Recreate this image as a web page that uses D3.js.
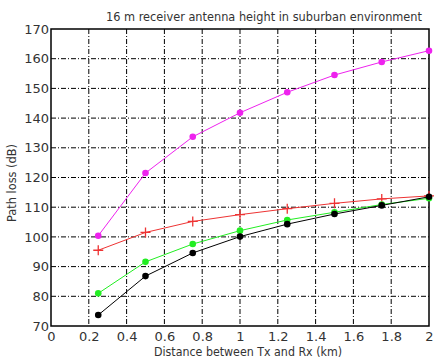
<!DOCTYPE html>
<html>
<head>
<meta charset="utf-8">
<script src="https://cdn.jsdelivr.net/npm/d3@7"></script>
<style>
body { margin:0; background:#fff; }
text { font-family: "DejaVu Sans", sans-serif; fill:#333; }
</style>
</head>
<body>
<div id="chart-area"></div>
<script>
var distances = [0.25, 0.5, 0.75, 1.0, 1.25, 1.5, 1.75, 2.0];
var magentaLoss = [100.4, 121.5, 133.7, 141.8, 148.7, 154.5, 158.9, 162.7];
var redLoss = [95.5, 101.5, 105.2, 107.5, 109.5, 111.3, 112.8, 113.8];
var greenLoss = [81.0, 91.6, 97.6, 102.1, 105.7, 108.3, 110.9, 113.0];
var blackLoss = [73.7, 86.8, 94.6, 100.1, 104.3, 107.7, 110.6, 113.5];
var xTicks = [0, 0.2, 0.4, 0.6, 0.8, 1, 1.2, 1.4, 1.6, 1.8, 2];
var yTicks = [70, 80, 90, 100, 110, 120, 130, 140, 150, 160, 170];

var margins = { left:51, right:18, top:29, bottom:36 };
var W = 447, H = 362;
var width = W - margins.left - margins.right;
var height = H - margins.top - margins.bottom;

var svg = d3.select("#chart-area").append("svg")
    .attr("width", W).attr("height", H);
var g = svg.append("g")
    .attr("transform", "translate(" + margins.left + "," + margins.top + ")");

var x = d3.scaleLinear().domain([0, 2]).range([0, width]);
var y = d3.scaleLinear().domain([70, 170]).range([height, 0]);

// grid
g.selectAll(".vgrid").data(xTicks.slice(1, -1)).enter().append("line")
    .attr("x1", d => x(d)).attr("x2", d => x(d))
    .attr("y1", 0).attr("y2", height)
    .attr("stroke", "#000").attr("stroke-width", 1)
    .attr("stroke-dasharray", "5,2,1,2");
g.selectAll(".hgrid").data(yTicks.slice(1, -1)).enter().append("line")
    .attr("x1", 0).attr("x2", width)
    .attr("y1", d => y(d)).attr("y2", d => y(d))
    .attr("stroke", "#000").attr("stroke-width", 1)
    .attr("stroke-dasharray", "5,2,1,2");

// axes
var xAxis = g.append("g").attr("transform", "translate(0," + height + ")")
    .call(d3.axisBottom(x).tickValues(xTicks).tickSize(0).tickPadding(6).tickFormat(d3.format("")));
var yAxis = g.append("g")
    .call(d3.axisLeft(y).tickValues(yTicks).tickSize(0).tickPadding(2));
[xAxis, yAxis].forEach(function(a){
    a.select(".domain").remove();
    a.selectAll("text").style("font-size", "13px").style("fill", "#333");
});
g.append("rect").attr("width", width).attr("height", height)
    .attr("fill", "none").attr("stroke", "#000").attr("stroke-width", 1.5);

// series
var series = [
    { values: magentaLoss, color: "#ee22ee", marker: "dot" },
    { values: redLoss, color: "#ee3333", marker: "plus" },
    { values: greenLoss, color: "#22ee22", marker: "dot" },
    { values: blackLoss, color: "#000000", marker: "dot" }
];
var line = d3.line().x(d => x(d[0])).y(d => y(d[1]));

series.forEach(function(s) {
    var pts = distances.map((d, i) => [d, s.values[i]]);
    g.append("path").datum(pts)
        .attr("d", line).attr("fill", "none")
        .attr("stroke", s.color).attr("stroke-width", 1);
    if (s.marker == "dot") {
        g.selectAll(null).data(pts).enter().append("circle")
            .attr("cx", d => x(d[0])).attr("cy", d => y(d[1]))
            .attr("r", 3.3).attr("fill", s.color);
    } else {
        g.selectAll(null).data(pts).enter().append("path")
            .attr("d", d => "M" + (x(d[0]) - 5) + "," + y(d[1]) + "h10M" + x(d[0]) + "," + (y(d[1]) - 5) + "v10")
            .attr("stroke", s.color).attr("stroke-width", 1.3);
    }
});

// labels
svg.append("text").attr("x", 264).attr("y", 21).attr("text-anchor", "middle")
    .style("font-size", "11.5px").attr("textLength", 316).attr("lengthAdjust", "spacingAndGlyphs")
    .text("16 m receiver antenna height in suburban environment");
svg.append("text").attr("x", 248).attr("y", 356).attr("text-anchor", "middle")
    .style("font-size", "12px").attr("textLength", 188).attr("lengthAdjust", "spacingAndGlyphs")
    .text("Distance between Tx and Rx (km)");
svg.append("text").attr("transform", "translate(16,183) rotate(-90)").attr("text-anchor", "middle")
    .style("font-size", "12px").attr("textLength", 78).attr("lengthAdjust", "spacingAndGlyphs")
    .text("Path loss (dB)");
</script>
</body>
</html>
